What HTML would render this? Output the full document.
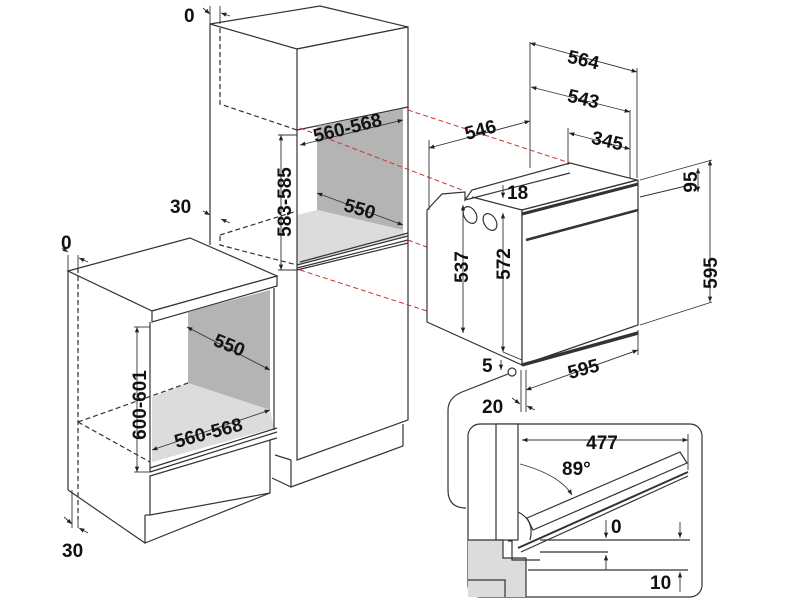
<!DOCTYPE html>
<html><head><meta charset="utf-8"><style>
html,body{margin:0;padding:0;background:#fff}
svg{display:block}
text{font-family:"Liberation Sans",sans-serif;font-weight:bold;font-size:19px;fill:#111}
</style></head><body>
<svg width="800" height="600" viewBox="0 0 800 600" xmlns="http://www.w3.org/2000/svg">
<defs>
<marker id="a" viewBox="0 0 10 10" refX="10" refY="5" markerWidth="6" markerHeight="6" orient="auto-start-reverse"><path d="M0,1 L10,5 L0,9z" fill="#222"/></marker>
</defs>
<g stroke="#333" stroke-width="1.2" fill="none">
<!-- tall cabinet -->
<polygon points="210,24 320,6 408,27 297,49" fill="#fff"/>
<polygon points="297,49 408,27 408,107 297,130" fill="#fff"/>
<line x1="210" y1="24" x2="210" y2="245"/>
<polygon points="317,126 403,109 403,230 317,210" fill="#b4b4b4" stroke="none"/>
<polygon points="297,215 317,210 403,230 405,236 297,265" fill="#dcdcdc" stroke="none"/>
<line x1="297" y1="130" x2="297" y2="270"/>
<line x1="408" y1="107" x2="408" y2="243"/>
<line x1="297" y1="265" x2="408" y2="236"/>
<line x1="297" y1="268" x2="408" y2="240"/>
<line x1="300" y1="262" x2="408" y2="233"/>
<polygon points="297,270 408,243 408,420 297,460" fill="#fff"/>
<polyline points="291,460 291,487 403,446 403,424"/>
<line x1="272" y1="478" x2="291" y2="487"/>
<line x1="275" y1="455" x2="291" y2="460"/>
<g stroke-dasharray="5,3">
<polyline points="220,28 220,104 297,130"/>
<polyline points="220,235 297,211"/>
<polyline points="220,236 220,245 297,265"/>
</g>
<!-- small cabinet -->
<polygon points="68,271 190,238 277,276 152,311" fill="#fff"/>
<polygon points="152,311 277,276 277,286 152,322" fill="#fff"/>
<polygon points="188,312 270,290 270,410 188,383" fill="#b4b4b4" stroke="none"/>
<polygon points="152,397 188,383 270,410 274,428 152,462" fill="#dcdcdc" stroke="none"/>
<line x1="68" y1="271" x2="68" y2="490"/>
<line x1="68" y1="490" x2="145" y2="543"/>
<line x1="150" y1="322" x2="150" y2="472"/>
<line x1="274" y1="288" x2="274" y2="430"/>
<line x1="150" y1="468" x2="277" y2="428"/>
<line x1="150" y1="472" x2="277" y2="432"/>
<polygon points="150,476 277,438 270,440 270,493 150,515" fill="#fff"/>
<polyline points="145,515 145,543 270,493"/>
<line x1="145" y1="515" x2="150" y2="515"/>
<g stroke-dasharray="5,3">
<line x1="78" y1="268" x2="78" y2="520"/>
<polyline points="78,422 188,383"/>
<polyline points="78,422 150,462"/>
</g>
<!-- red dashed -->
<g stroke="#c33" stroke-dasharray="5,3" stroke-width="1">
<line x1="300" y1="128" x2="462" y2="190"/>
<line x1="408" y1="110" x2="570" y2="163"/>
<line x1="408" y1="240" x2="440" y2="252"/>
<line x1="300" y1="270" x2="430" y2="312"/>
</g>
<!-- oven -->
<polygon points="427,210 442,194 465,192 465,200 472,190 570,163 637,180 522,210 522,365 427,322" fill="#fff"/>
<line x1="472" y1="197" x2="522" y2="210"/>
<line x1="465" y1="200" x2="570" y2="173"/>
<polygon points="522,210 638,180 638,325 522,365" fill="#fff"/>
<line x1="526" y1="240" x2="638" y2="210" stroke-width="2.5"/>
<line x1="522" y1="214" x2="638" y2="184" stroke-width="3"/>
<line x1="522" y1="365" x2="638" y2="333" stroke-width="3.5"/>
<ellipse cx="470" cy="215" rx="6" ry="9" transform="rotate(-30 470 215)"/>
<ellipse cx="490" cy="222" rx="6" ry="9" transform="rotate(-30 490 222)"/>
<circle cx="512" cy="372" r="4"/>
<path d="M508,374 L462,392 Q448,398 448,410 L448,490 Q448,508 466,508"/>
<rect x="468" y="424" width="234" height="173" rx="12" fill="#fff"/>
<rect x="496" y="424" width="22" height="116" fill="#fff"/>
<polygon points="468,540 503,540 503,558 526,558 526,597 468,597" fill="#dcdcdc" stroke="none"/>
<polyline points="468,540 503,540 503,558 526,558 526,597"/>
<polyline points="505,597 505,580 468,580"/>
<polyline points="508,541 512,541 512,560 540,560"/>
<polygon points="527,518 680,452 687,463 533,530" fill="#fff"/>
<line x1="518" y1="548" x2="688" y2="472" stroke-width="2"/>
<line x1="521" y1="552" x2="688" y2="476"/>
<path d="M518,512 Q535,520 530,540"/>
<line x1="540" y1="540" x2="690" y2="540"/>
<line x1="540" y1="552" x2="608" y2="552"/>
<line x1="528" y1="570" x2="688" y2="570"/>
<g stroke-width="0.9">
<line x1="522" y1="440" x2="688" y2="440" marker-start="url(#a)" marker-end="url(#a)"/>
<line x1="688" y1="434" x2="688" y2="470"/>
<path d="M520,464 Q560,475 572,495" marker-end="url(#a)"/>
<line x1="606" y1="520" x2="606" y2="538" marker-end="url(#a)"/>
<line x1="606" y1="570" x2="606" y2="555" marker-end="url(#a)"/>
<line x1="680" y1="522" x2="680" y2="538" marker-end="url(#a)"/>
<line x1="680" y1="592" x2="680" y2="572" marker-end="url(#a)"/>
<line x1="530" y1="42" x2="530" y2="168"/>
<line x1="637" y1="68" x2="637" y2="178"/>
<line x1="630" y1="110" x2="630" y2="178"/>
<line x1="568" y1="128" x2="568" y2="165"/>
<line x1="429" y1="140" x2="429" y2="210"/>
<line x1="530" y1="43" x2="637" y2="72" marker-start="url(#a)" marker-end="url(#a)"/>
<line x1="531" y1="87" x2="630" y2="112" marker-start="url(#a)" marker-end="url(#a)"/>
<line x1="569" y1="133" x2="630" y2="149" marker-start="url(#a)" marker-end="url(#a)"/>
<line x1="429" y1="148" x2="530" y2="121" marker-start="url(#a)" marker-end="url(#a)"/>
<line x1="640" y1="180" x2="712" y2="160"/>
<line x1="640" y1="197" x2="690" y2="185"/>
<line x1="640" y1="325" x2="712" y2="302"/>
<line x1="698" y1="168" x2="698" y2="192" marker-start="url(#a)" marker-end="url(#a)"/>
<line x1="710" y1="160" x2="710" y2="302" marker-start="url(#a)" marker-end="url(#a)"/>
<line x1="463" y1="205" x2="463" y2="333" marker-start="url(#a)" marker-end="url(#a)"/>
<line x1="503" y1="213" x2="503" y2="352" marker-start="url(#a)" marker-end="url(#a)"/>
<line x1="503" y1="352" x2="522" y2="360"/>
<line x1="503" y1="185" x2="503" y2="198" marker-end="url(#a)"/>
<line x1="521" y1="370" x2="521" y2="412"/>
<line x1="526" y1="370" x2="526" y2="412"/>
<line x1="638" y1="330" x2="638" y2="355"/>
<line x1="526" y1="390" x2="638" y2="350" marker-start="url(#a)" marker-end="url(#a)"/>
<line x1="501" y1="360" x2="501" y2="370" marker-end="url(#a)"/>
<line x1="512" y1="398" x2="520" y2="404" marker-end="url(#a)"/>
<line x1="535" y1="410" x2="527" y2="406" marker-end="url(#a)"/>
<line x1="281" y1="135" x2="281" y2="270" marker-start="url(#a)" marker-end="url(#a)"/>
<line x1="278" y1="135" x2="297" y2="135"/>
<line x1="278" y1="270" x2="297" y2="270"/>
<line x1="300" y1="145" x2="403" y2="120" marker-start="url(#a)" marker-end="url(#a)"/>
<line x1="317" y1="193" x2="403" y2="225" marker-start="url(#a)" marker-end="url(#a)"/>
<line x1="137" y1="327" x2="137" y2="472" marker-start="url(#a)" marker-end="url(#a)"/>
<line x1="134" y1="327" x2="150" y2="327"/>
<line x1="134" y1="472" x2="150" y2="472"/>
<line x1="187" y1="327" x2="270" y2="370" marker-start="url(#a)" marker-end="url(#a)"/>
<line x1="152" y1="450" x2="270" y2="410" marker-start="url(#a)" marker-end="url(#a)"/>
<line x1="203" y1="8" x2="210" y2="14" marker-end="url(#a)"/>
<line x1="230" y1="16" x2="221" y2="13" marker-end="url(#a)"/>
<line x1="210" y1="6" x2="210" y2="24"/><line x1="220" y1="6" x2="220" y2="24"/>
<line x1="203" y1="211" x2="210" y2="215" marker-end="url(#a)"/>
<line x1="230" y1="223" x2="221" y2="219" marker-end="url(#a)"/>
<line x1="68" y1="255" x2="68" y2="271"/><line x1="78" y1="255" x2="78" y2="271"/>
<line x1="62" y1="248" x2="68" y2="252" marker-end="url(#a)"/>
<line x1="88" y1="262" x2="79" y2="258" marker-end="url(#a)"/>
<line x1="72" y1="490" x2="72" y2="528"/><line x1="78" y1="520" x2="78" y2="528"/>
<line x1="64" y1="517" x2="72" y2="524" marker-end="url(#a)"/>
<line x1="88" y1="533" x2="79" y2="528" marker-end="url(#a)"/>
</g>
</g>
<text x="184" y="22">0</text>
<text x="170" y="213">30</text>
<text x="61" y="249">0</text>
<text x="62" y="557">30</text>
<text transform="translate(349,134) rotate(-14)" text-anchor="middle">560-568</text>
<text transform="translate(291,202) rotate(-90)" text-anchor="middle">583-585</text>
<text transform="translate(358,215) rotate(16)" text-anchor="middle">550</text>
<text transform="translate(227,351) rotate(22)" text-anchor="middle">550</text>
<text transform="translate(146,405) rotate(-90)" text-anchor="middle">600-601</text>
<text transform="translate(210,439) rotate(-15)" text-anchor="middle">560-568</text>
<text transform="translate(582,66) rotate(13)" text-anchor="middle">564</text>
<text transform="translate(582,105) rotate(13)" text-anchor="middle">543</text>
<text transform="translate(606,147) rotate(13)" text-anchor="middle">345</text>
<text transform="translate(482,136) rotate(-15)" text-anchor="middle">546</text>
<text x="507" y="199">18</text>
<text transform="translate(468,267) rotate(-90)" text-anchor="middle">537</text>
<text transform="translate(510,264) rotate(-90)" text-anchor="middle">572</text>
<text transform="translate(697,182) rotate(-90)" text-anchor="middle">95</text>
<text transform="translate(717,273) rotate(-90)" text-anchor="middle">595</text>
<text x="482" y="372">5</text>
<text transform="translate(585,375) rotate(-15)" text-anchor="middle">595</text>
<text x="482" y="413">20</text>
<text x="602" y="449" text-anchor="middle">477</text>
<text x="562" y="475">89°</text>
<text x="611" y="533">0</text>
<text x="650" y="589">10</text>
</svg>
</body></html>
